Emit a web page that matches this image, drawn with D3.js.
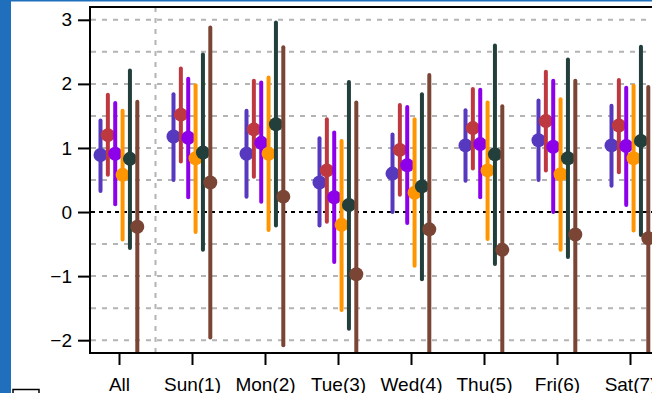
<!DOCTYPE html>
<html>
<head>
<meta charset="utf-8">
<script src="https://cdn.jsdelivr.net/npm/d3@7"></script>
<style>
  html, body { margin: 0; padding: 0; background: #fff; overflow: hidden; }
  svg { display: block; font-family: "Liberation Sans", Arial, sans-serif; }
</style>
</head>
<body>
<svg id="chart" width="652" height="393"></svg>
<script>
// ---- data ----
const categories = ["All", "Sun(1)", "Mon(2)", "Tue(3)", "Wed(4)", "Thu(5)", "Fri(6)", "Sat(7)"];
const seriesNames = ["s1", "s2", "s3", "s4", "s5", "s6"];
const seriesColors = ["#5739bf", "#be3840", "#8c00ea", "#ff9500", "#223f3b", "#7b4535"];
// point estimates per series (rows) x category (cols)
const estS1 = [0.89, 1.18, 0.91, 0.46, 0.60, 1.04, 1.12, 1.04];
const estS2 = [1.20, 1.52, 1.29, 0.65, 0.97, 1.31, 1.42, 1.35];
const estS3 = [0.91, 1.16, 1.08, 0.23, 0.73, 1.06, 1.02, 1.03];
const estS4 = [0.58, 0.84, 0.91, -0.20, 0.30, 0.65, 0.59, 0.84];
const estS5 = [0.83, 0.93, 1.37, 0.11, 0.40, 0.90, 0.84, 1.11];
const estS6 = [-0.23, 0.46, 0.24, -0.97, -0.27, -0.59, -0.35, -0.41];
// upper bounds
const hiS1 = [1.43, 1.84, 1.58, 1.15, 1.21, 1.59, 1.74, 1.66];
const hiS2 = [1.83, 2.24, 2.05, 1.45, 1.67, 1.92, 2.19, 2.06];
const hiS3 = [1.70, 2.08, 2.02, 1.24, 1.64, 1.91, 2.05, 1.94];
const hiS4 = [1.58, 1.98, 2.10, 1.11, 1.45, 1.71, 1.76, 1.97];
const hiS5 = [2.21, 2.46, 2.96, 2.03, 1.84, 2.60, 2.38, 2.58];
const hiS6 = [1.72, 2.88, 2.57, 1.71, 2.14, 1.65, 2.05, 1.95];
// lower bounds
const loS1 = [0.33, 0.50, 0.24, -0.21, 0.00, 0.49, 0.50, 0.41];
const loS2 = [0.58, 0.79, 0.55, -0.15, 0.27, 0.68, 0.65, 0.62];
const loS3 = [0.12, 0.23, 0.16, -0.78, -0.17, 0.23, 0.00, 0.11];
const loS4 = [-0.43, -0.31, -0.28, -1.53, -0.84, -0.42, -0.59, -0.29];
const loS5 = [-0.56, -0.59, -0.21, -1.82, -1.05, -0.81, -0.70, -0.36];
const loS6 = [-2.6, -1.96, -2.08, -2.6, -2.6, -2.6, -2.6, -2.6];
const yTicks = [-2, -1, 0, 1, 2, 3];
const yGrid = [-2, -1.5, -1, -0.5, 0.5, 1, 1.5, 2, 2.5, 3];

const est = [estS1, estS2, estS3, estS4, estS5, estS6];
const hi = [hiS1, hiS2, hiS3, hiS4, hiS5, hiS6];
const lo = [loS1, loS2, loS3, loS4, loS5, loS6];

// ---- layout ----
const svg = d3.select("#chart");
const plot = { left: 90, top: 7, right: 700, bottom: 353 };

// blue frame
svg.append("rect").attr("x", 0).attr("y", 0).attr("width", 11).attr("height", 393).attr("fill", "#1f6fbd");
svg.append("rect").attr("x", 0).attr("y", 0).attr("width", 652).attr("height", 1.5).attr("fill", "#1f6fbd");

const y = d3.scaleLinear().domain([-2.2, 3.2]).range([plot.bottom, plot.top]);
const x = d3.scalePoint().domain(categories).range([119, 630]);
const xo = d3.scalePoint().domain(seriesNames).range([-18.5, 18.3]);

svg.append("clipPath").attr("id", "plotclip")
  .append("rect").attr("x", plot.left).attr("y", plot.top)
  .attr("width", plot.right - plot.left).attr("height", plot.bottom - plot.top);

const g = svg.append("g");

// horizontal grid
g.selectAll("line.grid").data(yGrid).join("line")
  .attr("class", "grid")
  .attr("x1", plot.left + 1).attr("x2", plot.right)
  .attr("y1", d => y(d)).attr("y2", d => y(d))
  .attr("stroke", "#b4b4b4").attr("stroke-width", 2)
  .attr("stroke-dasharray", "5,6");

// vertical separator between All and days
const sepX = (x(categories[0]) + x(categories[1])) / 2;
g.append("line")
  .attr("x1", sepX).attr("x2", sepX)
  .attr("y1", plot.top).attr("y2", plot.bottom)
  .attr("stroke", "#b4b4b4").attr("stroke-width", 2)
  .attr("stroke-dasharray", "5,6");

// zero line
g.append("line")
  .attr("x1", plot.left + 1).attr("x2", plot.right)
  .attr("y1", y(0)).attr("y2", y(0))
  .attr("stroke", "#000").attr("stroke-width", 2)
  .attr("stroke-dasharray", "4,4");

// marks
const marks = svg.append("g").attr("clip-path", "url(#plotclip)");
seriesNames.forEach((s, si) => {
  const data = categories.map((c, ci) => ({ c, v: est[si][ci], h: hi[si][ci], l: lo[si][ci] }));
  const sg = marks.append("g");
  sg.selectAll("line").data(data).join("line")
    .attr("x1", d => x(d.c) + xo(s)).attr("x2", d => x(d.c) + xo(s))
    .attr("y1", d => y(d.h)).attr("y2", d => y(d.l))
    .attr("stroke", seriesColors[si]).attr("stroke-width", 4)
    .attr("stroke-linecap", "round");
  sg.selectAll("circle").data(data).join("circle")
    .attr("cx", d => x(d.c) + xo(s)).attr("cy", d => y(d.v))
    .attr("r", 7).attr("fill", seriesColors[si]);
});

// axes frame
svg.append("line").attr("x1", plot.left).attr("x2", plot.left).attr("y1", plot.top).attr("y2", plot.bottom)
  .attr("stroke", "#000").attr("stroke-width", 2);
svg.append("line").attr("x1", plot.left - 1).attr("x2", plot.right).attr("y1", plot.bottom).attr("y2", plot.bottom)
  .attr("stroke", "#000").attr("stroke-width", 2);
svg.append("line").attr("x1", plot.left - 1).attr("x2", plot.right).attr("y1", plot.top).attr("y2", plot.top)
  .attr("stroke", "#000").attr("stroke-width", 2);

// y axis
const yAxis = d3.axisLeft(y).tickValues(yTicks).tickSize(12).tickPadding(6).tickFormat(d3.format("d"));
const ya = svg.append("g").attr("transform", `translate(${plot.left},0)`).call(yAxis);
ya.select(".domain").remove();
ya.selectAll(".tick line").attr("stroke", "#000").attr("stroke-width", 2);
ya.selectAll(".tick text").attr("font-size", 19).attr("fill", "#000")
  .attr("font-family", "'Liberation Sans', Arial, sans-serif");

// x axis
const xAxis = d3.axisBottom(x).tickSize(12).tickPadding(13);
const xa = svg.append("g").attr("transform", `translate(0,${plot.bottom})`).call(xAxis);
xa.select(".domain").remove();
xa.selectAll(".tick line").attr("stroke", "#000").attr("stroke-width", 2);
xa.selectAll(".tick text").attr("font-size", 19).attr("fill", "#000")
  .attr("font-family", "'Liberation Sans', Arial, sans-serif");

// small box at bottom-left
svg.append("rect").attr("x", 13).attr("y", 389.5).attr("width", 26).attr("height", 12)
  .attr("fill", "none").attr("stroke", "#000").attr("stroke-width", 1.5);
</script>
</body>
</html>
